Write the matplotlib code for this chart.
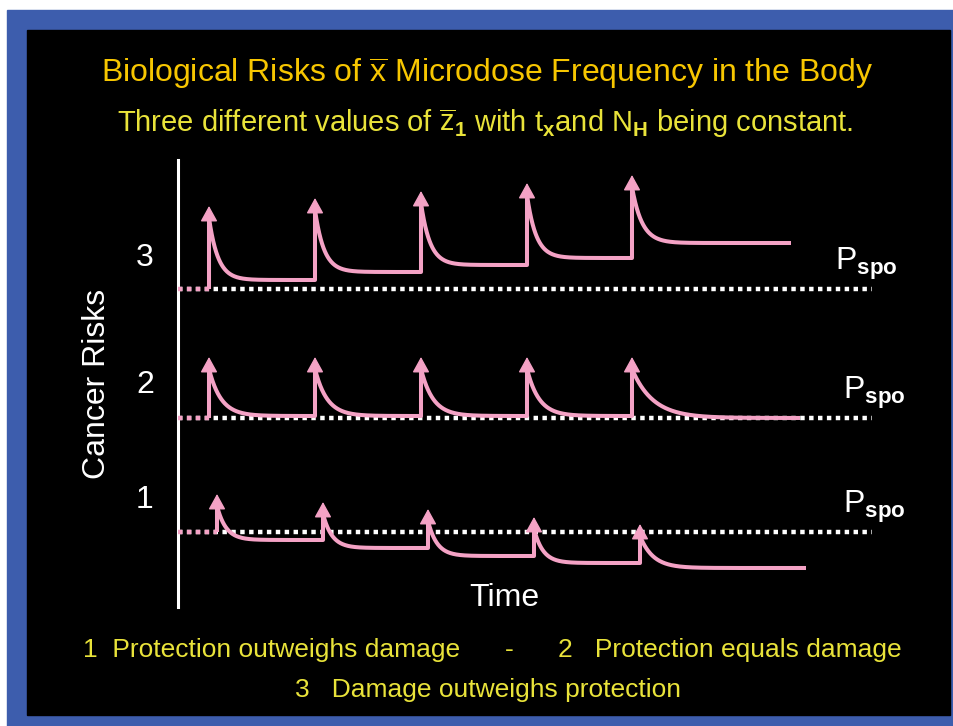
import matplotlib.pyplot as plt
from matplotlib.patches import Rectangle
import numpy as np

# ============================================================
# --- data: time in units of ~100 px, risk in arbitrary units ---
# ============================================================
pulse_t_upper = [0.31, 1.37, 2.43, 3.49, 4.54]   # curves 2 and 3
pulse_t_lower = [0.39, 1.45, 2.50, 3.56, 4.62]   # curve 1

curve_labels = ['1', '2', '3']
label_y      = [1.07, 2.22, 3.49]
pspo_levels  = [0.75, 1.89, 3.18]
pspo_label_x = [6.65, 6.65, 6.57]
pspo_end     = 6.94

# curve 1 : protection outweighs damage
peaks_1    = [1.13, 1.05, 0.98, 0.90, 0.83]
plateaus_1 = [0.67, 0.59, 0.51, 0.44, 0.39]
tau_1      = [0.09, 0.09, 0.09, 0.09, 0.13]
end_1      = 6.28

# curve 2 : protection equals damage
peaks_2    = [2.50, 2.50, 2.50, 2.50, 2.50]
plateaus_2 = [1.91, 1.91, 1.91, 1.91, 1.89]
tau_2      = [0.12, 0.12, 0.12, 0.12, 0.21]
end_2      = 6.22

# curve 3 : damage outweighs protection
peaks_3    = [4.01, 4.09, 4.16, 4.24, 4.32]
plateaus_3 = [3.27, 3.35, 3.42, 3.49, 3.64]
tau_3      = [0.09, 0.09, 0.09, 0.09, 0.10]
end_3      = 6.13

curves = [
    (pulse_t_lower, peaks_1, plateaus_1, tau_1, end_1),
    (pulse_t_upper, peaks_2, plateaus_2, tau_2, end_2),
    (pulse_t_upper, peaks_3, plateaus_3, tau_3, end_3),
]

title    = r'Biological Risks of $\overline{\mathrm{x}}$ Microdose Frequency in the Body'
subtitle = (r'Three different values of $\overline{\mathrm{z}}_{\mathbf{1}}$ with t$_{\mathbf{x}}$'
            r'and N$_{\mathbf{H}}$ being constant.')
note_1a  = '1  Protection outweighs damage'
note_1b  = '-'
note_1c  = '2   Protection equals damage'
note_2   = '3   Damage outweighs protection'

# ============================================================
# --- style ---
# ============================================================
W, H = 954, 726
pink  = '#F4A2C5'
gold  = '#F7C600'
lemon = '#E9E33A'
blue  = '#3D5DAD'

plt.rcParams['font.family']       = ['Liberation Sans', 'DejaVu Sans']
plt.rcParams['mathtext.fontset']  = 'custom'
plt.rcParams['mathtext.rm']       = 'Liberation Sans'
plt.rcParams['mathtext.it']       = 'Liberation Sans:italic'
plt.rcParams['mathtext.bf']       = 'Liberation Sans:bold'


def px(x, y):
    # pixel position -> figure fraction
    return x / W, 1 - y / H


def pulse_curve(times, peaks, plateaus, taus, t_end, start, head=0.12):
    xs, ys = [times[0]], [start]
    bounds = list(times[1:]) + [t_end]
    for tp, pk, pl, tau, tb in zip(times, peaks, plateaus, taus, bounds):
        top = pk - head
        tt = np.linspace(tp, tb, 300)
        yy = pl + (top - pl) * np.exp(-(tt - tp) / tau)
        xs.extend(tt)
        ys.extend(yy)
    return np.array(xs), np.array(ys)


fig = plt.figure(figsize=(W / 100, H / 100), dpi=100)
fig.patch.set_facecolor('white')
fig.add_artist(Rectangle(px(7, 726), (W - 7) / W, 716 / H,
                         transform=fig.transFigure, color=blue, zorder=-3))
fig.add_artist(Rectangle(px(27, 715), 923 / W, 685 / H,
                         transform=fig.transFigure, color='black', zorder=-2))

x0, y0 = px(178, 607)
ax = fig.add_axes([x0, y0, 700 / W, 447 / H])
ax.set_facecolor('none')
ax.set_xlim(0, 7.0)
ax.set_ylim(0, 4.47)
ax.set_xticks([])
ax.set_yticks([])
for s in ['top', 'right', 'bottom']:
    ax.spines[s].set_visible(False)
ax.spines['left'].set_color('white')
ax.spines['left'].set_linewidth(2.2)

for lvl, (times, peaks, plats, taus, t_end), lab, ly, lx in zip(
        pspo_levels, curves, curve_labels, label_y, pspo_label_x):
    # P_spo reference line
    ax.plot([0, pspo_end], [lvl, lvl], color='white', lw=3.2,
            linestyle=(0, (1, 1)), zorder=2)
    ax.plot([0, times[0]], [lvl, lvl], color=pink, lw=3.2,
            linestyle=(0, (1, 1)), zorder=3)

    xs, ys = pulse_curve(times, peaks, plats, taus, t_end, lvl)
    ax.plot(xs, ys, color=pink, lw=2.9, solid_joinstyle='round',
            solid_capstyle='butt', zorder=4)
    for tp, pk in zip(times, peaks):
        ax.annotate('', xy=(tp, pk), xytext=(tp, pk - 0.15),
                    arrowprops=dict(arrowstyle='-|>,head_length=0.4,head_width=0.22',
                                    mutation_scale=24, color=pink, lw=1,
                                    shrinkA=0, shrinkB=0), zorder=5)

    ax.text(lx, lvl + 0.19, r'P$_{\mathbf{spo}}$', color='white', fontsize=23,
            ha='left', va='baseline')
    ax.text(-0.33, ly, lab, color='white', fontsize=23, ha='center',
            va='center', clip_on=False)

# ============================================================
# --- texts ---
# ============================================================
fig.text(*px(487, 82), title, color=gold, fontsize=23, ha='center', va='baseline')
fig.text(*px(485, 132), subtitle, color=lemon, fontsize=21, ha='center', va='baseline')
fig.text(*px(97, 384), 'Cancer Risks', color='white', fontsize=23,
         rotation=90, ha='center', va='center')
fig.text(*px(504, 598), 'Time', color='white', fontsize=23, ha='center', va='center')

fig.text(*px(83, 657), note_1a, color=lemon, fontsize=19, ha='left', va='baseline')
fig.text(*px(509, 657), note_1b, color=lemon, fontsize=19, ha='center', va='baseline')
fig.text(*px(902, 657), note_1c, color=lemon, fontsize=19, ha='right', va='baseline')
fig.text(*px(488, 697), note_2, color=lemon, fontsize=19, ha='center', va='baseline')

fig.savefig('out.png', dpi=100)
